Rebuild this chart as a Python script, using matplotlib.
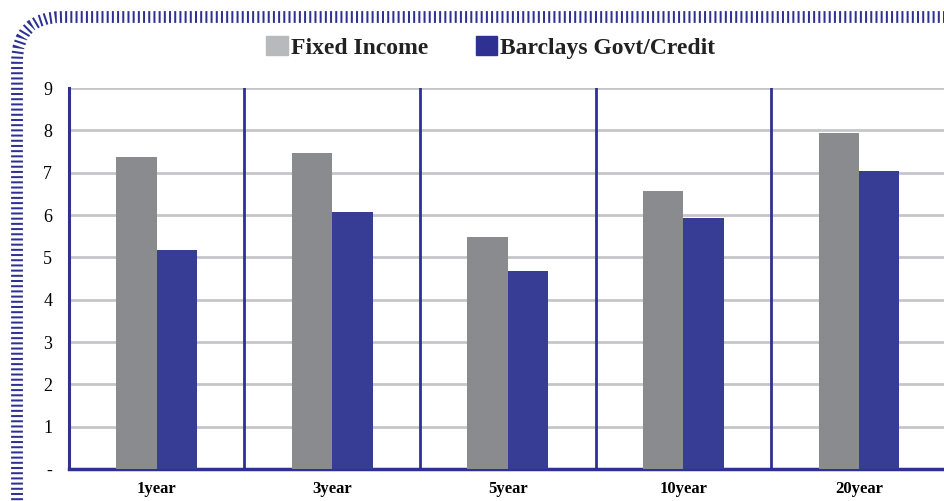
import numpy as np
import matplotlib.pyplot as plt
from matplotlib.patches import FancyBboxPatch, Patch

# chart data
periods = ['1year', '3year', '5year', '10year', '20year']
fixed_income = [7.37, 7.47, 5.48, 6.58, 7.95]
barclays = [5.18, 6.07, 4.67, 5.93, 7.04]
y_ticks = [0, 1, 2, 3, 4, 5, 6, 7, 8, 9]
y_labels = ['-', '1', '2', '3', '4', '5', '6', '7', '8', '9']

navy = '#2e3192'
bar_gray = '#8a8b8e'
bar_blue = '#373c95'
serif = ['Liberation Serif', 'DejaVu Serif']

fig = plt.figure(figsize=(9.44, 5.01), dpi=100)

# decorative dashed rounded border, in pixel units
border = FancyBboxPatch((17, -200), 1100, 501 - 17 + 200,
                        boxstyle='round,pad=0,rounding_size=45',
                        transform=None, fill=False,
                        edgecolor=navy, linewidth=8.5,
                        linestyle=(0, (0.17, 0.27)), clip_on=False)
fig.patches.append(border)

ax = fig.add_axes([0.073, 0.064, 0.93, 0.760])

x = np.arange(len(periods))
w = 0.23
ax.bar(x - w / 2, fixed_income, w, color=bar_gray, zorder=3)
ax.bar(x + w / 2, barclays, w, color=bar_blue, zorder=3)

ax.set_xlim(-0.5, len(periods) - 0.5)
ax.set_ylim(0, 9)
ax.set_yticks(y_ticks)
ax.set_yticklabels(y_labels, fontsize=13, family=serif)
ax.set_xticks(x)
ax.set_xticklabels(periods, fontsize=12, family=serif, fontweight='bold')
ax.tick_params(axis='x', length=0, pad=9)
ax.tick_params(axis='y', length=0, pad=12)

ax.grid(axis='y', color='#c6c6ca', linewidth=2, zorder=0)
for b in np.arange(0.5, len(periods) - 0.5, 1):
    ax.axvline(b, color=navy, linewidth=2, zorder=2)

for s in ['top', 'right']:
    ax.spines[s].set_visible(False)
ax.spines['left'].set_color(navy)
ax.spines['left'].set_linewidth(2.2)
ax.spines['bottom'].set_color(navy)
ax.spines['bottom'].set_linewidth(2.5)

handles = [Patch(color='#b8b9bc', label='Fixed Income'),
           Patch(color=navy, label='Barclays Govt/Credit')]
fig.legend(handles=handles, loc='center', bbox_to_anchor=(0.52, 0.906),
           ncol=2, frameon=False, handlelength=0.9, handleheight=0.9,
           handletextpad=0.15, columnspacing=2.0,
           prop={'family': serif, 'size': 17, 'weight': 'bold'},
           labelcolor='#222222')

fig.savefig('out.png', dpi=100)
